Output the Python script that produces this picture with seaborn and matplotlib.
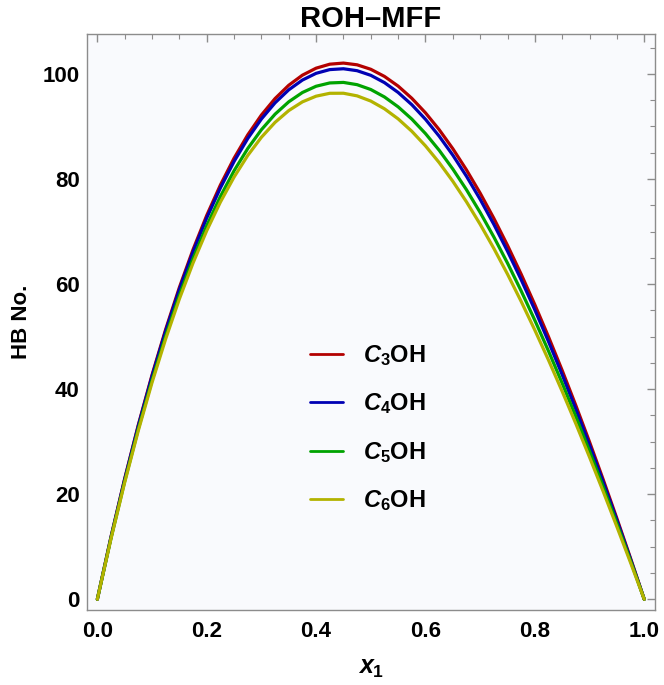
import numpy as np
import pandas as pd
import matplotlib
matplotlib.use("Agg")
import matplotlib.pyplot as plt
import seaborn as sns

# ---- data ----
x1 = [0.000, 0.025, 0.050, 0.075, 0.100, 0.125, 0.150, 0.175, 0.200, 0.225,
      0.250, 0.275, 0.300, 0.325, 0.350, 0.375, 0.400, 0.425, 0.450, 0.475,
      0.500, 0.525, 0.550, 0.575, 0.600, 0.625, 0.650, 0.675, 0.700, 0.725,
      0.750, 0.775, 0.800, 0.825, 0.850, 0.875, 0.900, 0.925, 0.950, 0.975, 1.000]
c3oh = [0, 11.89, 22.95, 33.21, 42.69, 51.39, 59.35, 66.56, 73.06, 78.85,
        83.95, 88.39, 92.17, 95.31, 97.84, 99.76, 101.09, 101.85, 102.06, 101.73,
        100.88, 99.52, 97.68, 95.36, 92.59, 89.39, 85.76, 81.72, 77.30, 72.51,
        67.36, 61.87, 56.06, 49.95, 43.55, 36.87, 29.94, 22.77, 15.38, 7.79, 0]
c4oh = [0, 11.83, 22.84, 33.05, 42.46, 51.10, 58.99, 66.14, 72.57, 78.30,
        83.33, 87.70, 91.42, 94.50, 96.97, 98.83, 100.11, 100.82, 100.98, 100.61,
        99.73, 98.34, 96.47, 94.14, 91.36, 88.15, 84.53, 80.51, 76.12, 71.36,
        66.25, 60.82, 55.08, 49.04, 42.73, 36.16, 29.34, 22.30, 15.05, 7.61, 0]
c5oh = [0, 11.63, 22.44, 32.46, 41.68, 50.14, 57.85, 64.83, 71.10, 76.67,
        81.56, 85.79, 89.38, 92.34, 94.69, 96.46, 97.65, 98.28, 98.38, 97.95,
        97.03, 95.61, 93.73, 91.40, 88.64, 85.47, 81.89, 77.94, 73.62, 68.96,
        63.98, 58.68, 53.09, 47.23, 41.11, 34.75, 28.18, 21.39, 14.42, 7.29, 0]
c6oh = [0, 11.53, 22.23, 32.13, 41.24, 49.57, 57.16, 64.01, 70.15, 75.60,
        80.36, 84.47, 87.94, 90.78, 93.02, 94.68, 95.76, 96.31, 96.32, 95.82,
        94.83, 93.36, 91.44, 89.08, 86.30, 83.12, 79.56, 75.64, 71.37, 66.78,
        61.88, 56.68, 51.22, 45.51, 39.56, 33.40, 27.04, 20.50, 13.80, 6.96, 0]
series_labels = [r"$C_{3}\mathrm{OH}$", r"$C_{4}\mathrm{OH}$",
                 r"$C_{5}\mathrm{OH}$", r"$C_{6}\mathrm{OH}$"]
colors = ["#B30000", "#0000B3", "#00A300", "#B3B300"]
title = "ROH\u2013MFF"
xlabel = r"$x_{1}$"
ylabel = "HB No."
xtick_labels = ["0.0", "0.2", "0.4", "0.6", "0.8", "1.0"]

frames = []
for lab, vals in zip(series_labels, [c3oh, c4oh, c5oh, c6oh]):
    frames.append(pd.DataFrame({"x": x1, "y": vals, "series": lab}))
df = pd.concat(frames, ignore_index=True)

sns.set_theme(style="white")
plt.rcParams["font.family"] = ["Liberation Sans", "DejaVu Sans"]
plt.rcParams["font.weight"] = "bold"
plt.rcParams["text.color"] = "black"
plt.rcParams["axes.labelcolor"] = "black"
plt.rcParams["xtick.color"] = "black"
plt.rcParams["ytick.color"] = "black"
plt.rcParams["mathtext.fontset"] = "custom"
plt.rcParams["mathtext.rm"] = "Liberation Sans:bold"
plt.rcParams["mathtext.it"] = "Liberation Sans:italic:bold"
plt.rcParams["mathtext.bf"] = "Liberation Sans:bold"

fig = plt.figure(figsize=(6.64, 6.85), dpi=100)
ax = fig.add_axes([0.1306, 0.1095, 0.9864 - 0.1306, 0.9504 - 0.1095])
ax.set_facecolor("#F9FAFD")

sns.lineplot(data=df, x="x", y="y", hue="series", palette=colors,
             hue_order=series_labels, linewidth=2.3, ax=ax, legend=True,
             sort=False)

ax.set_xlim(-0.0194, 1.0196)
ax.set_ylim(-2.04, 107.6)
ax.set_xticks([0, 0.2, 0.4, 0.6, 0.8, 1.0])
ax.set_xticks(np.arange(0, 1.001, 0.05), minor=True)
ax.set_yticks(np.arange(0, 101, 20))
ax.set_yticks(np.arange(0, 106, 5), minor=True)
ax.set_xticklabels(xtick_labels)
ax.tick_params(which="both", direction="in", top=True, right=True,
               color="#8C8C8C", labelsize=16, labelcolor="black")
ax.tick_params(which="major", length=6, width=1)
ax.tick_params(which="minor", length=3.5, width=0.8)
ax.tick_params(axis="x", pad=8)
ax.tick_params(axis="y", pad=5)
for sp in ax.spines.values():
    sp.set_color("#8C8C8C")
    sp.set_linewidth(1.0)

ax.set_title(title, fontsize=21, fontweight="bold", pad=5, color="black")
ax.set_xlabel(xlabel, fontsize=18, labelpad=10)
ax.set_ylabel(ylabel, fontsize=16, fontweight="bold", labelpad=8)

leg = ax.legend(loc="upper left", bbox_to_anchor=(0.376, 0.48), frameon=False,
                fontsize=17, handlelength=1.4, handletextpad=0.85,
                labelspacing=1.0, borderaxespad=0)
for h in leg.get_lines():
    h.set_linewidth(2.0)
for t in leg.get_texts():
    t.set_color("black")

fig.savefig("out.png", dpi=100, facecolor="white")
